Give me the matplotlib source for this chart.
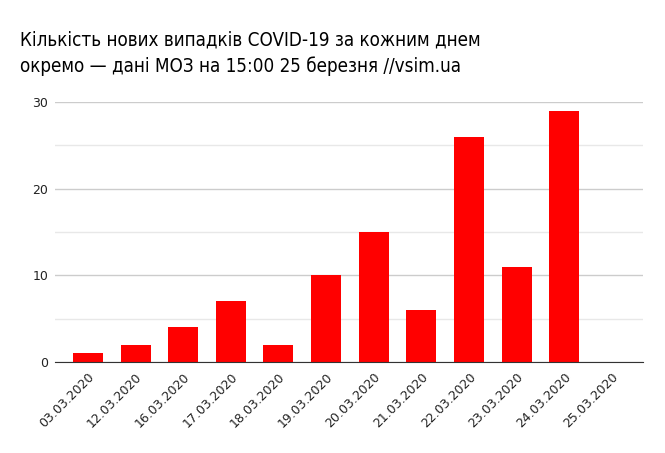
import matplotlib
matplotlib.use("Agg")
import matplotlib.pyplot as plt
from matplotlib.ticker import MultipleLocator

categories = ["03.03.2020", "12.03.2020", "16.03.2020", "17.03.2020", "18.03.2020",
              "19.03.2020", "20.03.2020", "21.03.2020", "22.03.2020", "23.03.2020",
              "24.03.2020", "25.03.2020"]
values = [1, 2, 4, 7, 2, 10, 15, 6, 26, 11, 29, 0]
title = "Кількість нових випадків COVID-19 за кожним днем\nокремо — дані МОЗ на 15:00 25 березня //vsim.ua"

plt.rcParams['font.family'] = ['DejaVu Sans']
fig = plt.figure(figsize=(6.65, 4.53), dpi=100)
ax = fig.add_axes([55 / 665, 91 / 453, (643 - 55) / 665, (362 - 102) / 453])

x = list(range(len(categories)))
ax.bar(x, values, width=0.63, color="#ff0000", zorder=3)

ax.set_xlim(-0.69, 11.65)
ax.set_ylim(0, 30)
ax.yaxis.set_major_locator(MultipleLocator(10))
ax.yaxis.set_minor_locator(MultipleLocator(5))
ax.grid(axis="y", which="major", color="#cccccc", linewidth=1, zorder=0)
ax.grid(axis="y", which="minor", color="#e8e8e8", linewidth=1, zorder=0)
ax.tick_params(axis="y", which="both", length=0, labelsize=9, labelcolor="#222222", pad=5)
ax.set_xticks(x)
ax.set_xticklabels(categories, rotation=45, ha="right", rotation_mode="anchor",
                   fontsize=9, color="#222222")
ax.tick_params(axis="x", length=0, pad=6)
for s in ["top", "right", "left"]:
    ax.spines[s].set_visible(False)
ax.spines["bottom"].set_color("#333333")
ax.spines["bottom"].set_zorder(4)

fig.text(20 / 665, 1 - 30 / 453, title, fontsize=13.5, color="#000000",
         ha="left", va="top", linespacing=1.45, fontstretch='condensed')

fig.savefig("out.png", dpi=100, facecolor="white")
